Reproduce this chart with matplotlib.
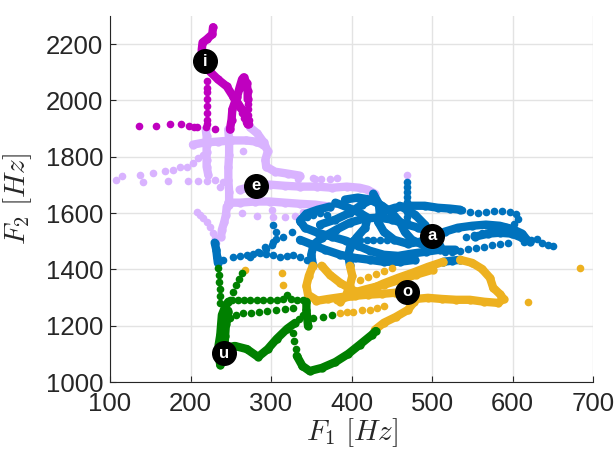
import matplotlib
matplotlib.use("Agg")
import matplotlib.pyplot as plt

plt.rcParams['font.family'] = ['Liberation Sans', 'DejaVu Sans']
plt.rcParams['mathtext.fontset'] = 'cm'

# vowel colours (MATLAB-ish)
colors = {'i': '#BF00BF', 'e': '#D9B3FF', 'a': '#0072BD', 'o': '#EDB120', 'u': '#008000'}

# label positions (F1, F2)
vowels = ['i', 'e', 'a', 'o', 'u']
label_f1 = [218, 281, 500, 469, 242]
label_f2 = [2139, 1697, 1520, 1320, 1103]

# ---- /i/ ----
i_thick = [
    ([228, 227, 220, 215, 214, 214, 218, 224, 234, 245, 253, 259, 264, 269, 271],
     [2260, 2235, 2217, 2206, 2181, 2157, 2139, 2103, 2075, 2050, 2014, 1989, 1968, 1939, 1915]),
    ([249, 251, 252, 255, 258, 261, 264, 266, 270, 271, 271],
     [1897, 1932, 1968, 1993, 2014, 2046, 2075, 2082, 2061, 2032, 2004]),
]
i_dots = [
    ([271, 271, 271, 273, 273], [1986, 1968, 1950, 1932, 1915]),
    ([258, 261, 264, 266, 269], [1993, 1975, 1957, 1939, 1925]),
    ([220, 220, 220, 220, 220, 220, 220, 220], [2068, 2046, 2029, 2004, 1979, 1957, 1932, 1915]),
    ([136, 157, 175, 188, 198, 204, 208, 219, 230], [1911, 1911, 1915, 1915, 1911, 1907, 1904, 1907, 1900]),
]

# ---- /e/ ----
e_thick = [
    ([203, 218, 234, 252, 269, 281, 290], [1843, 1851, 1854, 1858, 1858, 1854, 1843]),
    ([274, 283, 291, 296, 293, 294, 305, 321, 336],
     [1904, 1883, 1851, 1819, 1790, 1765, 1747, 1740, 1733]),
    ([261, 280, 299, 317, 336, 357, 376, 394, 410, 420, 429],
     [1683, 1697, 1701, 1697, 1694, 1694, 1690, 1694, 1690, 1683, 1669]),
    ([247, 261, 280, 299, 317, 336, 355, 373], [1637, 1637, 1641, 1641, 1637, 1633, 1630, 1623]),
    ([247, 248, 248, 247, 247, 248, 248], [1897, 1854, 1808, 1762, 1719, 1676, 1630]),
    ([219, 220, 220, 220, 220, 220, 222], [1897, 1872, 1843, 1818, 1790, 1765, 1737]),
    ([245, 244, 242, 239, 238], [1623, 1594, 1569, 1541, 1516]),
]
e_dots = [
    ([352, 362, 373, 382], [1726, 1722, 1722, 1726]),
    ([107, 115, 137, 141, 153, 168, 178, 187, 196, 203, 209, 215],
     [1719, 1730, 1737, 1712, 1744, 1748, 1754, 1762, 1765, 1779, 1797, 1808]),
    ([172, 197, 209, 220, 230, 240, 237], [1715, 1715, 1715, 1715, 1719, 1712, 1694]),
    ([208, 212, 216, 220, 224, 228, 230, 232], [1605, 1594, 1584, 1569, 1552, 1530, 1512, 1495]),
    ([264, 283, 302, 301, 317, 330, 340, 469, 265, 334, 355],
     [1601, 1591, 1587, 1612, 1587, 1591, 1605, 1737, 1819, 1722, 1722]),
]

# ---- /a/ ----
a_thick = [
    ([427, 434, 435, 433, 440, 453, 470, 485, 500, 516, 532, 550, 567, 584, 599, 612, 618],
     [1669, 1633, 1601, 1569, 1534, 1505, 1491, 1498, 1516, 1534, 1548, 1555, 1559, 1555, 1544, 1527, 1505]),
    ([373, 358, 344, 336, 342, 358, 376, 393, 408, 423, 440, 458, 475, 493, 510, 529],
     [1623, 1612, 1598, 1573, 1548, 1530, 1516, 1502, 1484, 1466, 1452, 1448, 1456, 1463, 1470, 1470]),
    ([380, 396, 410, 420, 417, 406, 398, 396, 398],
     [1637, 1619, 1601, 1584, 1548, 1512, 1477, 1448, 1416]),
    ([352, 350, 353, 363, 381, 398, 415, 433, 450, 466, 483, 497],
     [1416, 1452, 1488, 1512, 1541, 1566, 1580, 1584, 1577, 1562, 1548, 1534]),
    ([439, 454, 473, 491, 507, 522, 535], [1605, 1619, 1626, 1626, 1619, 1616, 1612]),
    ([553, 570, 584, 599, 612, 622], [1516, 1527, 1530, 1527, 1512, 1498]),
    ([514, 525, 535], [1427, 1431, 1434]),
    ([230, 232, 233, 234], [1495, 1470, 1445, 1423]),
    ([392, 408, 423, 438, 450, 460, 466, 475, 491, 510],
     [1648, 1655, 1648, 1626, 1601, 1569, 1534, 1505, 1484, 1484]),
    ([336, 351, 367, 386, 404, 423, 440, 460, 479],
     [1505, 1488, 1470, 1452, 1441, 1434, 1427, 1427, 1434]),
    ([361, 380, 398, 413, 425], [1559, 1577, 1601, 1630, 1648]),
    ([460, 479, 491, 500], [1626, 1594, 1559, 1516]),
]
a_dots = [
    ([537, 547, 557, 567, 577, 587, 597, 604, 607, 602, 592, 582, 572, 562, 552, 542],
     [1612, 1605, 1601, 1605, 1609, 1609, 1605, 1598, 1580, 1562, 1552, 1544, 1537, 1530, 1523, 1516]),
    ([614, 623, 630, 637, 644, 650], [1498, 1505, 1509, 1495, 1488, 1484]),
    ([516, 525, 535, 545, 555, 565, 575, 584, 594], [1463, 1463, 1466, 1473, 1477, 1480, 1488, 1491, 1495]),
    ([469] * 9, [1712, 1694, 1676, 1658, 1641, 1623, 1605, 1587, 1569]),
    ([274, 284, 293, 302, 315, 326, 336, 345, 352, 361, 370],
     [1445, 1463, 1480, 1498, 1516, 1534, 1569, 1587, 1594, 1601, 1594]),
    ([240, 253, 262, 270, 278, 286, 294, 302, 311, 320, 327, 336, 345],
     [1434, 1445, 1448, 1452, 1456, 1459, 1456, 1452, 1445, 1448, 1452, 1445, 1434]),
    ([402, 410, 419, 427, 435, 444], [1505, 1505, 1505, 1505, 1505, 1505]),
    ([302, 306, 306, 301, 294], [1559, 1534, 1509, 1488, 1473]),
]

# ---- /o/ ----
o_thick = [
    ([352, 347, 344, 346, 356], [1413, 1377, 1342, 1310, 1292]),
    ([398, 401, 398, 393, 386], [1413, 1377, 1342, 1306, 1285]),
    ([363, 373, 386, 401, 413], [1413, 1381, 1352, 1327, 1313]),
    ([382, 401, 420, 439, 458, 476, 495, 514], [1292, 1306, 1324, 1349, 1370, 1388, 1409, 1427]),
    ([402, 420, 440, 460, 480, 501], [1317, 1331, 1345, 1363, 1381, 1399]),
    ([535, 550, 562, 572, 576, 584, 589, 582, 565, 547, 530, 512, 495, 480, 469,
      454, 438, 420, 404, 388, 371, 356],
     [1434, 1423, 1402, 1370, 1335, 1313, 1295, 1281, 1285, 1292, 1292, 1295, 1299, 1295, 1317,
      1317, 1313, 1310, 1306, 1302, 1295, 1288]),
    ([478, 470, 455, 440, 429], [1285, 1256, 1231, 1210, 1185]),
]
o_dots = [
    ([386, 394, 402, 413, 423, 432, 440], [1246, 1249, 1249, 1256, 1256, 1263, 1270]),
    ([410, 420, 430, 440, 450], [1363, 1374, 1384, 1395, 1406]),
    ([268, 314, 315, 684, 619], [1399, 1388, 1345, 1406, 1285]),
]

# ---- /u/ ----
u_thick = [
    ([237, 235, 235, 237, 238, 239, 243, 247], [1060, 1096, 1132, 1167, 1203, 1238, 1267, 1285]),
    ([242, 242, 243, 244, 247], [1078, 1121, 1164, 1206, 1249]),
    ([243, 255, 270, 284, 296, 307, 320, 330], [1121, 1128, 1117, 1089, 1117, 1153, 1189, 1210]),
    ([332, 339, 348, 363, 380, 396, 410, 425, 430], [1093, 1057, 1039, 1050, 1071, 1100, 1132, 1167, 1181]),
    ([344, 344, 345, 346], [1285, 1256, 1228, 1199]),
]
u_dots = [
    ([335, 340], [1224, 1238]),
    ([327, 329, 331], [1174, 1146, 1117]),
    ([234, 235, 235, 237, 237, 237], [1406, 1381, 1356, 1331, 1306, 1281]),
    ([245, 247, 249, 253, 257, 260, 264], [1221, 1256, 1292, 1320, 1345, 1367, 1388]),
    ([252, 259, 266, 274, 283, 290, 299, 307, 315, 320, 325, 332, 340],
     [1292, 1292, 1292, 1292, 1292, 1292, 1292, 1292, 1295, 1310, 1295, 1292, 1292]),
    ([249, 257, 265, 275, 285, 295, 306, 317, 327], [1228, 1238, 1246, 1246, 1249, 1253, 1256, 1260, 1263]),
    ([352, 365, 376], [1228, 1231, 1238]),
]


def draw_vowel(ax, thick, dots, color):
    for f1, f2 in thick:
        ax.plot(f1, f2, '-o', color=color, lw=6, ms=6, mew=0,
                solid_capstyle='round', solid_joinstyle='round')
    for f1, f2 in dots:
        ax.plot(f1, f2, 'o', color=color, ms=5.5, mew=0, ls='none')


fig = plt.figure(figsize=(6.14, 4.49), dpi=100)
ax = fig.add_axes([110 / 614, 67 / 449, 483 / 614, 366 / 449])

draw_vowel(ax, e_thick, e_dots, colors['e'])
draw_vowel(ax, i_thick, i_dots, colors['i'])
draw_vowel(ax, a_thick, a_dots, colors['a'])
draw_vowel(ax, o_thick, o_dots, colors['o'])
draw_vowel(ax, u_thick, u_dots, colors['u'])

for v, x, y in zip(vowels, label_f1, label_f2):
    ax.plot(x, y, 'o', color='black', ms=17, zorder=5)
    ax.text(x, y, v, color='white', ha='center', va='center',
            fontsize=12, fontweight='bold', zorder=6)

ax.set_xlim(100, 700)
ax.set_ylim(1000, 2300)
ax.set_xticks(range(100, 701, 100))
ax.set_yticks(range(1000, 2201, 200))
ax.grid(True, color='#e3e3e3', lw=1)
ax.set_axisbelow(True)
for s in ['top', 'right']:
    ax.spines[s].set_visible(False)
for s in ['left', 'bottom']:
    ax.spines[s].set_color('#262626')
    ax.spines[s].set_linewidth(0.8)
ax.tick_params(direction='in', length=4, labelsize=18.5, colors='#262626')
ax.tick_params(axis='x', pad=7)
ax.tick_params(axis='y', pad=5)
ax.set_xlabel(r'$F_1\ [Hz]$', fontsize=21, color='#262626', labelpad=0)
ax.set_ylabel(r'$F_2\ [Hz]$', fontsize=21, color='#262626', labelpad=8)

fig.savefig('out.png', dpi=100)
